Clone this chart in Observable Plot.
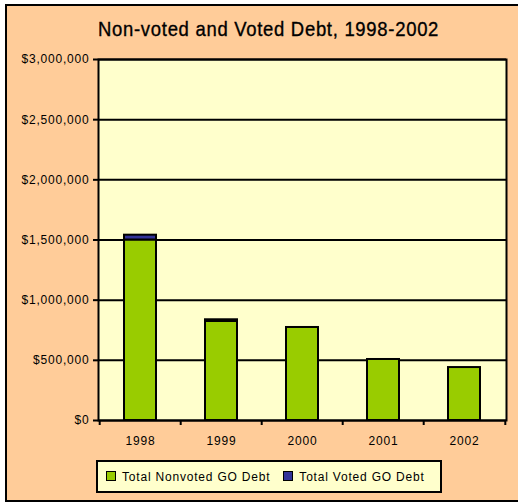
<!DOCTYPE html>
<html>
<head>
<meta charset="utf-8">
<script src="https://cdn.jsdelivr.net/npm/d3@7"></script>
<script src="https://cdn.jsdelivr.net/npm/@observablehq/plot@0.6"></script>
<style>
  html, body { margin: 0; padding: 0; background: #fff; }
  #wrap { position: relative; width: 518px; height: 503px; overflow: hidden; background: #fff; }
  #panel { position: absolute; left: 5px; top: 4px; width: 513px; height: 498px; box-sizing: border-box;
           background: #FFCC99; border-left: 2px solid #000; border-top: 2px solid #000; border-bottom: 2px solid #000; }
  #title { position: absolute; left: 98px; top: 18px; font-family: "Liberation Sans", Arial, sans-serif;
           font-size: 21px; line-height: 21px; letter-spacing: 0.8px; color: #000; white-space: nowrap;
           transform: scaleX(0.88); transform-origin: 0 0; -webkit-text-stroke: 0.35px #000; }
  #plot { position: absolute; left: 0; top: 48px; }
  #legend { position: absolute; left: 96px; top: 460px; width: 346px; height: 33px; box-sizing: border-box;
            border: 2px solid #000; background: #FFFFCC; display: flex; align-items: center; padding-left: 8px;
            font-family: "Liberation Sans", Arial, sans-serif; font-size: 12px; letter-spacing: 0.8px; color: #000; }
  .sw { width: 10px; height: 10px; box-sizing: border-box; border: 1.5px solid #000; margin-right: 6px; margin-top: -2px; }
  .item { display: flex; align-items: center; margin-right: 13px; white-space: nowrap; }
</style>
</head>
<body>
<div id="wrap">
  <div id="panel"></div>
  <div id="title"></div>
  <div id="plot"></div>
  <div id="legend"></div>
</div>
<script>
const titleText = "Non-voted and Voted Debt, 1998-2002";
const years = ["1998", "1999", "2000", "2001", "2002"];
const seriesNames = ["Total Nonvoted GO Debt", "Total Voted GO Debt"];
const seriesColors = ["#99CC00", "#333399"];
const nonvoted = [1500000, 823000, 773000, 507000, 440000];
const voted = [40000, 14000, 0, 0, 0];
const yTicks = [0, 500000, 1000000, 1500000, 2000000, 2500000, 3000000];

document.getElementById("title").textContent = titleText;

const rows = [];
years.forEach((yr, i) => {
  rows.push({year: yr, series: seriesNames[0], value: nonvoted[i]});
  rows.push({year: yr, series: seriesNames[1], value: voted[i]});
});

const W = 518, H = 410, mL = 98, mR = 12, mT = 11, mB = 38;
const step = (W - mL - mR) / years.length;

const chart = Plot.plot({
  width: W, height: H,
  marginLeft: mL, marginRight: mR, marginTop: mT, marginBottom: mB,
  style: {background: "transparent", fontFamily: "'Liberation Sans', Arial, sans-serif", fontSize: "12px", letterSpacing: "0.8px", color: "#000"},
  x: {domain: years, paddingInner: 0.6, paddingOuter: 0.3, label: null},
  y: {domain: [0, 3000000], label: null},
  color: {domain: seriesNames, range: seriesColors},
  marks: [
    Plot.frame({fill: "#FFFFCC", stroke: null}),
    Plot.gridY(yTicks, {stroke: "#000", strokeOpacity: 1, strokeWidth: 2}),
    Plot.barY(rows, Plot.stackY({x: "year", y: "value", fill: "series", stroke: "#000", strokeWidth: 2, order: null})),
    Plot.frame({stroke: "#000", strokeWidth: 2}),
    Plot.axisY({ticks: yTicks, tickFormat: d3.format("$,.0f"), tickSize: 5, tickPadding: 4, strokeWidth: 2, label: null}),
    Plot.axisX({tickSize: 0, tickPadding: 16, label: null}),
    Plot.ruleX(years, {x: d => d, y1: 0, y2: 0, dx: -step / 2, insetBottom: -5, stroke: "#000", strokeWidth: 2}),
    Plot.ruleX(years.slice(-1), {x: d => d, y1: 0, y2: 0, dx: step / 2, insetBottom: -5, stroke: "#000", strokeWidth: 2})
  ]
});
document.getElementById("plot").appendChild(chart);

const legend = document.getElementById("legend");
seriesNames.forEach((name, i) => {
  const item = document.createElement("div");
  item.className = "item";
  const sw = document.createElement("div");
  sw.className = "sw";
  sw.style.background = seriesColors[i];
  const label = document.createElement("span");
  label.textContent = name;
  item.appendChild(sw);
  item.appendChild(label);
  legend.appendChild(item);
});
</script>
</body>
</html>
